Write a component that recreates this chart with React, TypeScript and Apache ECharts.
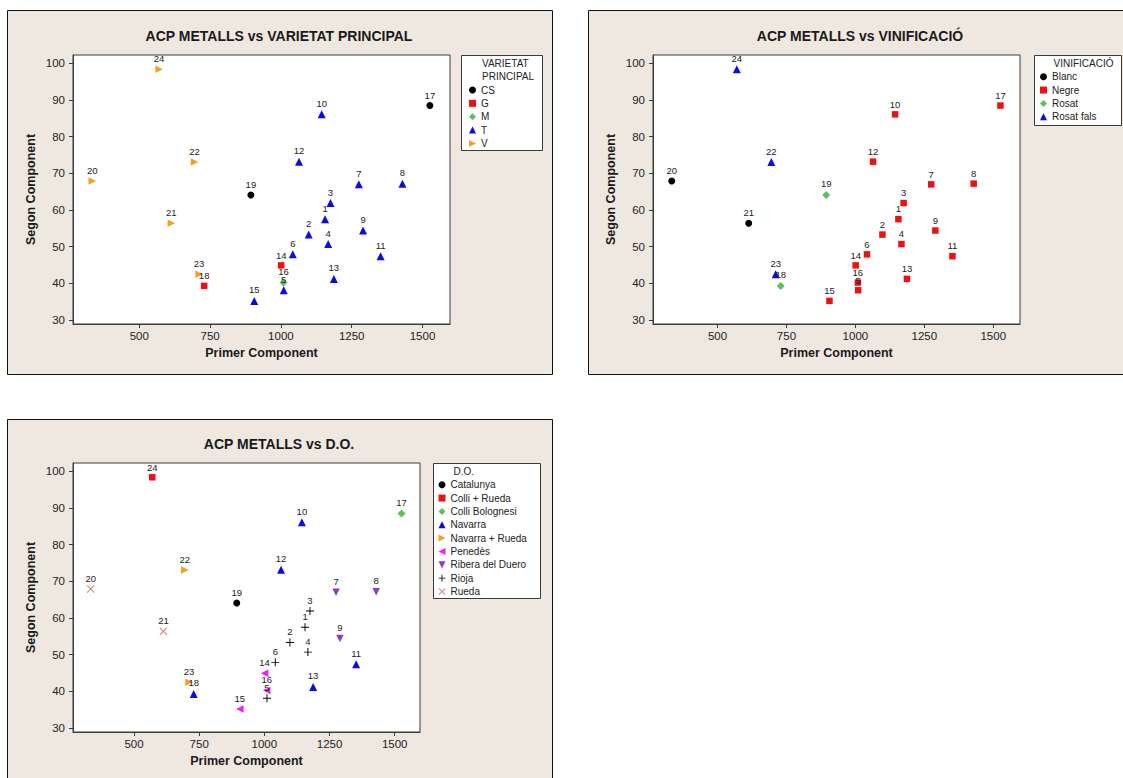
import React, { useEffect, useRef } from "react";
import * as echarts from "echarts";

// ---------- DATA ----------
const sampleIds = [1, 2, 3, 4, 5, 6, 7, 8, 9, 10, 11, 12, 13, 14, 15, 16, 17, 18, 19, 20, 21, 22, 23, 24];
const primerComponent = [1156, 1098, 1175, 1167, 1010, 1042, 1275, 1429, 1290, 1144, 1352, 1064, 1187, 1001, 906, 1009, 1526, 729, 894, 334, 613, 695, 711, 570];
const segonComponent = [57.5, 53.3, 61.9, 50.7, 38.1, 47.9, 67.0, 67.2, 54.4, 86.1, 47.4, 73.2, 41.2, 44.9, 35.2, 40.2, 88.5, 39.3, 64.1, 67.9, 56.4, 73.1, 42.5, 98.4];

const varietat = ["T", "T", "T", "T", "T", "T", "T", "T", "T", "T", "T", "T", "T", "G", "T", "M", "CS", "G", "CS", "V", "V", "V", "V", "V"];
const vinificacio = ["Negre", "Negre", "Negre", "Negre", "Negre", "Negre", "Negre", "Negre", "Negre", "Negre", "Negre", "Negre", "Negre", "Negre", "Negre", "Negre", "Negre", "Rosat", "Rosat", "Blanc", "Blanc", "Rosat fals", "Rosat fals", "Rosat fals"];
const denominacio = ["Rioja", "Rioja", "Rioja", "Rioja", "Rioja", "Rioja", "Ribera del Duero", "Ribera del Duero", "Ribera del Duero", "Navarra", "Navarra", "Navarra", "Navarra", "Penedès", "Penedès", "Penedès", "Colli Bolognesi", "Navarra", "Catalunya", "Rueda", "Rueda", "Navarra + Rueda", "Navarra + Rueda", "Colli + Rueda"];

const varietatCats = ["CS", "G", "M", "T", "V"];
const vinificacioCats = ["Blanc", "Negre", "Rosat", "Rosat fals"];
const denominacioCats = ["Catalunya", "Colli + Rueda", "Colli Bolognesi", "Navarra", "Navarra + Rueda", "Penedès", "Ribera del Duero", "Rioja", "Rueda"];

const xTicks = [500, 750, 1000, 1250, 1500];
const yTicks = [30, 40, 50, 60, 70, 80, 90, 100];

const titles = ["ACP METALLS vs VARIETAT PRINCIPAL", "ACP METALLS vs VINIFICACIÓ", "ACP METALLS vs D.O."];
const legendHeaders = [["VARIETAT", "PRINCIPAL"], ["VINIFICACIÓ"], ["D.O."]];

// ---------- STYLES ----------
const SYM = {
  circle: "circle",
  square: "rect",
  diamond: "diamond",
  up: "triangle",
  right: "path://M0,0 L10,5 L0,10 Z",
  left: "path://M10,0 L0,5 L10,10 Z",
  down: "path://M0,0 L10,0 L5,10 Z",
  plus: "path://M4.4,0 H5.6 V4.4 H10 V5.6 H5.6 V10 H4.4 V5.6 H0 V4.4 H4.4 Z",
  cross: "path://M0,1 L1,0 L5,4 L9,0 L10,1 L6,5 L10,9 L9,10 L5,6 L1,10 L0,9 L4,5 Z",
};
const C = {
  black: "#000000",
  red: "#ee1111",
  green: "#5fbf5f",
  blue: "#0b0be6",
  orange: "#f4a020",
  magenta: "#f020f0",
  purple: "#8e3fbf",
  pink: "#d48888",
};
const catStyle: Record<string, [string, string, number]> = {
  CS: [SYM.circle, C.black, 7],
  G: [SYM.square, C.red, 6.5],
  M: [SYM.diamond, C.green, 8],
  T: [SYM.up, C.blue, 8],
  V: [SYM.right, C.orange, 7.5],
  Blanc: [SYM.circle, C.black, 7],
  Negre: [SYM.square, C.red, 6.5],
  Rosat: [SYM.diamond, C.green, 8],
  "Rosat fals": [SYM.up, C.blue, 8],
  Catalunya: [SYM.circle, C.black, 7],
  "Colli + Rueda": [SYM.square, C.red, 6.5],
  "Colli Bolognesi": [SYM.diamond, C.green, 8],
  Navarra: [SYM.up, C.blue, 8],
  "Navarra + Rueda": [SYM.right, C.orange, 7.5],
  "Penedès": [SYM.left, C.magenta, 7.5],
  "Ribera del Duero": [SYM.down, C.purple, 7.5],
  Rioja: [SYM.plus, C.black, 8],
  Rueda: [SYM.cross, C.pink, 8],
};

// layout
const FONT = "'Liberation Sans', Arial, sans-serif";
const panels = [
  { x: 7, y: 10, w: 545, h: 364 },
  { x: 588, y: 10, w: 560, h: 364 },
  { x: 7, y: 419, w: 545, h: 380 },
];
const grids = [
  { left: 73, top: 55, width: 377, height: 269 },
  { left: 653, top: 55, width: 367, height: 269 },
  { left: 73, top: 463, width: 347, height: 269 },
];
const titlePos = [
  { x: 279, y: 29 },
  { x: 860, y: 29 },
  { x: 279, y: 437 },
];
const legendBoxes = [
  { x: 461, y: 55, w: 81, h: 95 },
  { x: 1034, y: 55, w: 87, h: 70 },
  { x: 433, y: 463, w: 107, h: 135 },
];
const legendPos = [
  { left: 469, top: 85, headerX: 482, headerY: 63.3 },
  { left: 1040, top: 71.7, headerX: 1053.5, headerY: 63.3 },
  { left: 438.5, top: 479.7, headerX: 453.5, headerY: 471.3 },
];

export default function App() {
  const ref = useRef<HTMLDivElement>(null);
  useEffect(() => {
    if (!ref.current) return;
    const chart = echarts.init(ref.current, undefined, { renderer: "svg" });

    const groupings = [
      { values: varietat, cats: varietatCats },
      { values: vinificacio, cats: vinificacioCats },
      { values: denominacio, cats: denominacioCats },
    ];

    const series: any[] = [];
    groupings.forEach((g, p) => {
      g.cats.forEach((cat) => {
        const [symbol, color, size] = catStyle[cat];
        const data = sampleIds
          .map((id, i) => ({ id, i }))
          .filter(({ i }) => g.values[i] === cat)
          .map(({ id, i }) => [primerComponent[i], segonComponent[i], id]);
        series.push({
          type: "scatter",
          name: cat,
          xAxisIndex: p,
          yAxisIndex: p,
          data,
          symbol,
          symbolSize: size,
          itemStyle: { color, opacity: 1 },
          z: 3,
          label: {
            show: true,
            position: "top",
            distance: 2,
            formatter: (pp: any) => String(pp.value[2]),
            fontSize: 9.5,
            fontFamily: FONT,
            color: "#222",
          },
          emphasis: { disabled: true },
        });
      });
    });

    const axisCommon = {
      axisLine: { show: true, lineStyle: { color: "#3a3a3a", width: 1 } },
      axisTick: { show: true, length: 4, lineStyle: { color: "#3a3a3a" } },
      splitLine: { show: false },
    };

    const xAxis = grids.map((_, p) => ({
      type: "value",
      gridIndex: p,
      min: 266,
      max: 1597,
      ...axisCommon,
      axisTick: { ...axisCommon.axisTick, customValues: xTicks },
      axisLabel: {
        customValues: xTicks,
        formatter: (v: number) => String(v),
        margin: 6,
        fontSize: 11.5,
        fontFamily: FONT,
        color: "#222",
      },
      name: "Primer Component",
      nameLocation: "middle",
      nameGap: 22,
      nameTextStyle: { fontSize: 12.5, fontWeight: "bold", fontFamily: FONT, color: "#1a1a1a" },
    }));
    const yAxis = grids.map((_, p) => ({
      type: "value",
      gridIndex: p,
      min: 28.9,
      max: 102.3,
      ...axisCommon,
      axisTick: { ...axisCommon.axisTick, customValues: yTicks },
      axisLabel: {
        customValues: yTicks,
        formatter: (v: number) => String(v),
        margin: 8,
        fontSize: 11.5,
        fontFamily: FONT,
        color: "#222",
      },
      name: "Segon Component",
      nameLocation: "middle",
      nameGap: 36,
      nameTextStyle: { fontSize: 12.5, fontWeight: "bold", fontFamily: FONT, color: "#1a1a1a" },
    }));

    const graphic: any[] = [];
    panels.forEach((pn) => {
      graphic.push({
        type: "rect",
        z: -10,
        shape: { x: pn.x + 0.5, y: pn.y + 0.5, width: pn.w, height: pn.h },
        style: { fill: "#eee8e1", stroke: "#111", lineWidth: 1 },
        silent: true,
      });
    });
    legendBoxes.forEach((b) => {
      graphic.push({
        type: "rect",
        z: 1,
        shape: { x: b.x + 0.5, y: b.y + 0.5, width: b.w, height: b.h },
        style: { fill: "#ffffff", stroke: "#3a3a3a", lineWidth: 1 },
        silent: true,
      });
    });
    legendHeaders.forEach((lines, p) => {
      lines.forEach((t, k) => {
        graphic.push({
          type: "text",
          z: 5,
          x: legendPos[p].headerX,
          y: legendPos[p].headerY + k * 13.35,
          style: {
            text: t,
            fontSize: 10,
            fontFamily: FONT,
            fill: "#222",
            textVerticalAlign: "middle",
            verticalAlign: "middle",
          },
          silent: true,
        });
      });
    });

    chart.setOption({
      animation: false,
      backgroundColor: "#ffffff",
      title: titles.map((t, p) => ({
        text: t,
        left: titlePos[p].x,
        top: titlePos[p].y,
        textAlign: "center",
        padding: 0,
        textStyle: { fontSize: 14, fontWeight: "bold", fontFamily: FONT, color: "#1a1a1a" },
      })),
      legend: groupings.map((g, p) => ({
        data: g.cats,
        orient: "vertical",
        left: legendPos[p].left,
        top: legendPos[p].top,
        padding: 0,
        itemWidth: 7,
        itemHeight: 7,
        itemGap: 3.35,
        selectedMode: false,
        z: 5,
        textStyle: { fontSize: 10, lineHeight: 10, fontFamily: FONT, color: "#222" },
      })),
      grid: grids.map((g) => ({
        ...g,
        show: true,
        backgroundColor: "#ffffff",
        borderColor: "#3a3a3a",
        borderWidth: 1,
        containLabel: false,
      })),
      xAxis,
      yAxis,
      series,
      graphic,
    });

    return () => chart.dispose();
  }, []);

  return (
    <div
      ref={ref}
      style={{ position: "fixed", left: 0, top: 0, width: 1123, height: 778, background: "#fff" }}
    />
  );
}
